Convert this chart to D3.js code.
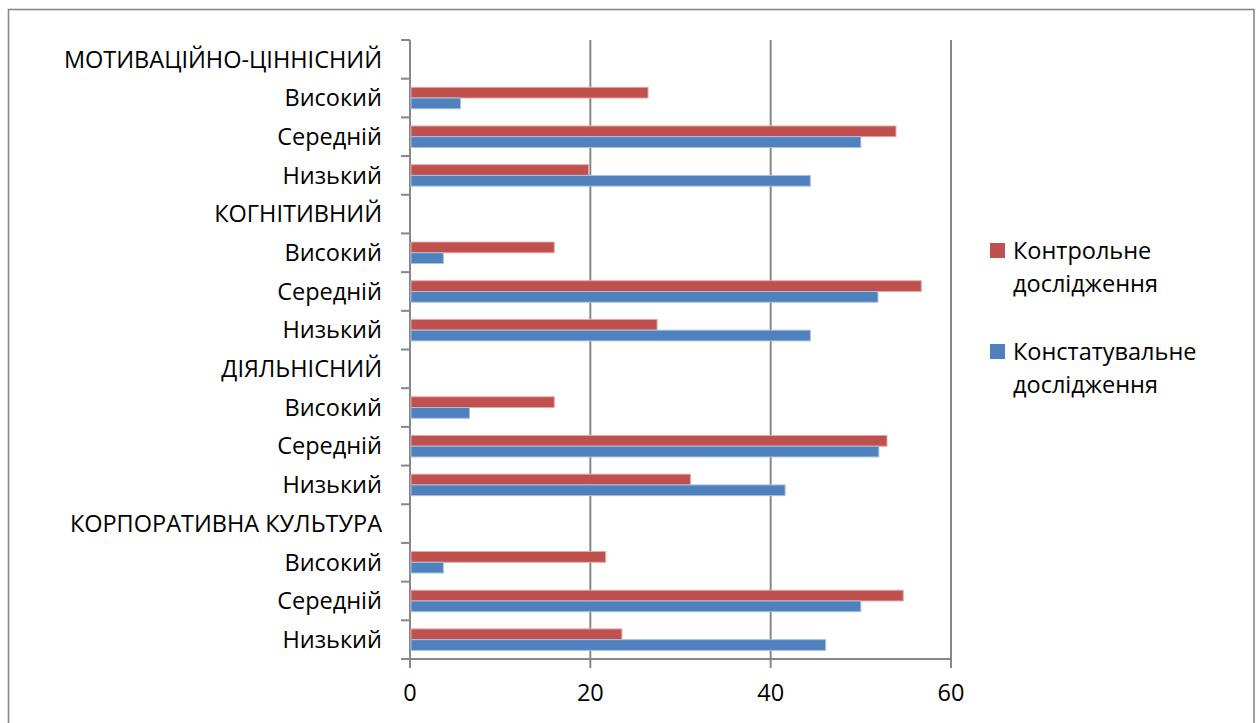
<!DOCTYPE html>
<html>
<head>
<meta charset="utf-8">
<script src="https://cdn.jsdelivr.net/npm/d3@7"></script>
<style>
  html, body { margin: 0; padding: 0; background: #fff; }
  svg { display: block; }
  text { font-family: "Open Sans", "Noto Sans", sans-serif; fill: #000; }
</style>
</head>
<body>
<svg id="chart" width="1257" height="723"></svg>
<script>
// Row labels, top to bottom; section headers carry no bars
const categories = [
  "МОТИВАЦІЙНО-ЦІННІСНИЙ", "Високий", "Середній", "Низький",
  "КОГНІТИВНИЙ", "Високий", "Середній", "Низький",
  "ДІЯЛЬНІСНИЙ", "Високий", "Середній", "Низький",
  "КОРПОРАТИВНА КУЛЬТУРА", "Високий", "Середній", "Низький"
];
const seriesNames = ["Контрольне дослідження", "Констатувальне дослідження"];
const controlValues = [
  null, 26.4, 53.9, 19.8,
  null, 16.0, 56.7, 27.4,
  null, 16.0, 52.9, 31.1,
  null, 21.7, 54.7, 23.5
];
const constatValues = [
  null, 5.6, 50.0, 44.4,
  null, 3.7, 51.9, 44.4,
  null, 6.6, 52.0, 41.6,
  null, 3.7, 50.0, 46.1
];
const xTicks = [0, 20, 40, 60];
const colors = ["#C0504D", "#4F81BD"];
const edgeColors = ["#E3A9A7", "#A9C1E2"];

const svg = d3.select("#chart");
const gridColor = "#878787";
const fontSize = 23.5;

// outer frame
svg.append("rect")
  .attr("x", 8.5).attr("y", 9.5)
  .attr("width", 1245.5).attr("height", 730)
  .attr("fill", "none").attr("stroke", gridColor).attr("stroke-width", 1.6);

const plot = { left: 410, right: 951, top: 40, bottom: 659 };

const x = d3.scaleLinear().domain([0, 60]).range([plot.left, plot.right]);
const rowKeys = categories.map((_, i) => i);
const y = d3.scaleBand().domain(rowKeys).range([plot.top, plot.bottom]).padding(0);
const ySub = d3.scaleBand().domain([0, 1]).range([0, y.bandwidth()])
  .paddingInner(0).paddingOuter(0.8);

// vertical gridlines (with small ticks below the axis)
const g = svg.append("g");
g.selectAll("line.grid")
  .data(xTicks)
  .join("line")
  .attr("class", "grid")
  .attr("x1", d => x(d)).attr("x2", d => x(d))
  .attr("y1", plot.top).attr("y2", plot.bottom + 9)
  .attr("stroke", gridColor).attr("stroke-width", 2);

// bottom axis line
g.append("line")
  .attr("x1", plot.left).attr("x2", plot.right)
  .attr("y1", plot.bottom).attr("y2", plot.bottom)
  .attr("stroke", gridColor).attr("stroke-width", 2);

// category ticks on the left axis
const boundaries = d3.range(categories.length + 1).map(i => plot.top + i * y.step());
g.selectAll("line.ytick")
  .data(boundaries)
  .join("line")
  .attr("class", "ytick")
  .attr("x1", plot.left - 9).attr("x2", plot.left)
  .attr("y1", d => d).attr("y2", d => d)
  .attr("stroke", gridColor).attr("stroke-width", 2);

// x tick labels
g.selectAll("text.xlab")
  .data(xTicks)
  .join("text")
  .attr("class", "xlab")
  .attr("x", d => x(d)).attr("y", 701)
  .attr("text-anchor", "middle")
  .style("font-size", fontSize + "px")
  .text(d => d3.format("d")(d));

// category labels
g.selectAll("text.ylab")
  .data(rowKeys)
  .join("text")
  .attr("class", "ylab")
  .attr("x", 382)
  .attr("y", d => y(d) + y.bandwidth() / 2)
  .attr("dy", "0.35em")
  .attr("text-anchor", "end")
  .style("font-size", fontSize + "px")
  .text(d => categories[d]);

// bars
const seriesValues = [controlValues, constatValues];
seriesValues.forEach((vals, s) => {
  const rows = rowKeys.filter(i => vals[i] != null);
  svg.append("g").selectAll("rect")
    .data(rows)
    .join("rect")
    .attr("x", x(0) + 1)
    .attr("y", i => y(i) + ySub(s))
    .attr("width", i => x(vals[i]) - x(0) - 1)
    .attr("height", ySub.bandwidth())
    .attr("fill", colors[s])
    .attr("stroke", edgeColors[s])
    .attr("stroke-width", 1);
});

// legend
const legend = svg.append("g");
const legendItems = [
  { lines: ["Контрольне", "дослідження"], color: colors[0], top: 243 },
  { lines: ["Констатувальне", "дослідження"], color: colors[1], top: 344 }
];
legendItems.forEach(item => {
  legend.append("rect")
    .attr("x", 990).attr("y", item.top)
    .attr("width", 15).attr("height", 15)
    .attr("fill", item.color);
  item.lines.forEach((t, k) => {
    legend.append("text")
      .attr("x", 1013).attr("y", item.top + 16 + k * 33)
      .style("font-size", fontSize + "px")
      .text(t);
  });
});
</script>
</body>
</html>
